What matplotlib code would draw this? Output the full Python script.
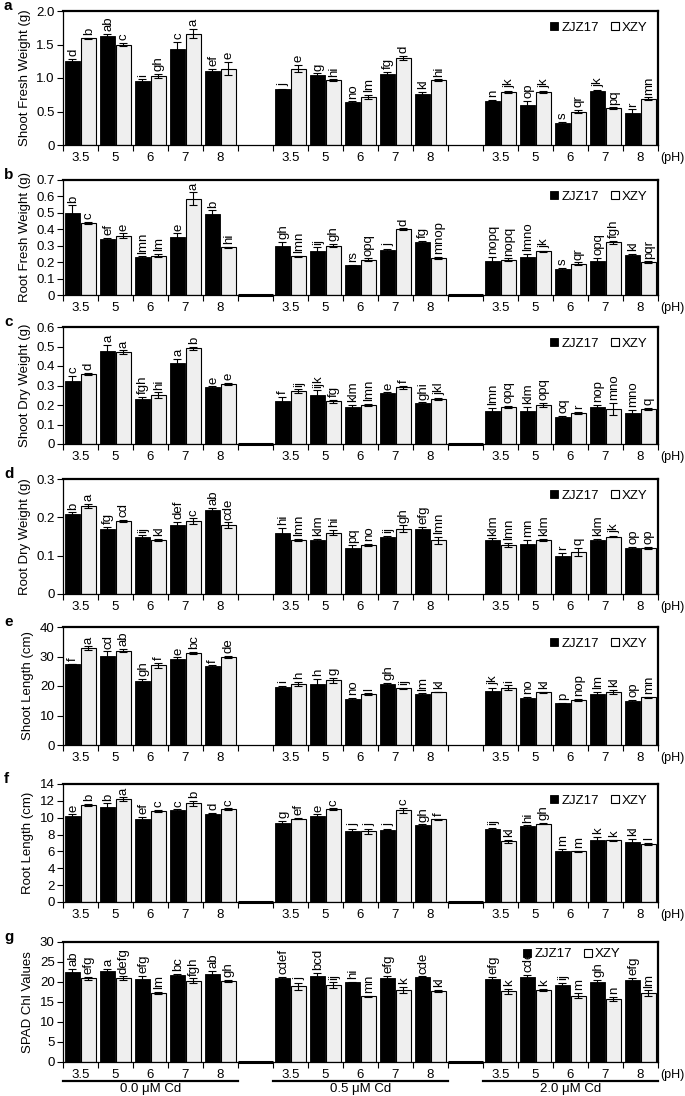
import matplotlib
matplotlib.use('Agg')
import matplotlib.pyplot as plt
import matplotlib.transforms as mtransforms
from matplotlib.patches import Patch

plt.rcParams['font.family'] = ['Liberation Sans', 'DejaVu Sans']

ph_labels = ['3.5', '5', '6', '7', '8']
cd_labels = ['0.0 \u03bcM Cd', '0.5 \u03bcM Cd', '2.0 \u03bcM Cd']
cultivars = ['ZJZ17', 'XZY']

# ---- a: Shoot Fresh Weight (g)
a_zjz = [1.25, 1.63, 0.95, 1.44, 1.11, 0.83, 1.04, 0.64, 1.06, 0.76, 0.66, 0.59, 0.33, 0.81, 0.48]
a_zjz_err = [0.03, 0.03, 0.03, 0.10, 0.03, 0.01, 0.03, 0.01, 0.03, 0.03, 0.01, 0.07, 0.01, 0.01, 0.05]
a_xzy = [1.59, 1.50, 1.03, 1.66, 1.14, 1.14, 0.97, 0.72, 1.30, 0.97, 0.79, 0.79, 0.50, 0.55, 0.69]
a_xzy_err = [0.01, 0.02, 0.03, 0.07, 0.10, 0.05, 0.01, 0.03, 0.03, 0.01, 0.02, 0.02, 0.02, 0.01, 0.02]
a_zjz_let = ['d', 'ab', 'i', 'c', 'ef', 'j', 'g', 'no', 'fg', 'kl', 'n', 'op', 's', 'jk', 'r']
a_xzy_let = ['b', 'c', 'gh', 'a', 'e', 'e', 'hi', 'lm', 'd', 'hi', 'jk', 'jk', 'qr', 'pq', 'mn']

# ---- b: Root Fresh Weight (g)
b_zjz = [0.50, 0.34, 0.23, 0.355, 0.495, 0.30, 0.27, 0.18, 0.275, 0.32, 0.21, 0.23, 0.16, 0.21, 0.245]
b_zjz_err = [0.045, 0.01, 0.005, 0.02, 0.02, 0.025, 0.02, 0.005, 0.005, 0.01, 0.02, 0.02, 0.005, 0.015, 0.005]
b_xzy = [0.44, 0.36, 0.24, 0.585, 0.29, 0.235, 0.30, 0.215, 0.40, 0.225, 0.215, 0.265, 0.19, 0.32, 0.20]
b_xzy_err = [0.005, 0.015, 0.008, 0.04, 0.005, 0.005, 0.01, 0.008, 0.005, 0.005, 0.008, 0.005, 0.008, 0.008, 0.005]
b_zjz_let = ['b', 'ef', 'lmn', 'e', 'b', 'gh', 'ij', 'rs', 'j', 'fg', 'nopq', 'lmno', 's', 'opq', 'kl']
b_xzy_let = ['c', 'e', 'lm', 'a', 'hi', 'lmn', 'gh', 'opq', 'd', 'mnop', 'nopq', 'jk', 'qr', 'fgh', 'pqr']

# ---- c: Shoot Dry Weight (g)
c_zjz = [0.325, 0.475, 0.23, 0.415, 0.29, 0.22, 0.25, 0.19, 0.26, 0.21, 0.17, 0.17, 0.14, 0.19, 0.16]
c_zjz_err = [0.025, 0.035, 0.01, 0.02, 0.005, 0.02, 0.025, 0.01, 0.005, 0.003, 0.015, 0.02, 0.005, 0.01, 0.015]
c_xzy = [0.36, 0.47, 0.25, 0.49, 0.31, 0.27, 0.22, 0.20, 0.29, 0.23, 0.19, 0.20, 0.16, 0.18, 0.18]
c_xzy_err = [0.005, 0.01, 0.015, 0.01, 0.005, 0.01, 0.008, 0.005, 0.01, 0.005, 0.005, 0.01, 0.005, 0.03, 0.005]
c_zjz_let = ['c', 'a', 'fgh', 'a', 'e', 'f', 'ijk', 'klm', 'e', 'ghi', 'lmn', 'klm', 'oq', 'nop', 'mno']
c_xzy_let = ['d', 'a', 'hi', 'b', 'e', 'ij', 'fg', 'lmn', 'f', 'jkl', 'opq', 'opq', 'r', 'mno', 'q']

# ---- d: Root Dry Weight (g)
d_zjz = [0.21, 0.17, 0.148, 0.18, 0.22, 0.16, 0.14, 0.12, 0.148, 0.17, 0.14, 0.13, 0.10, 0.14, 0.12]
d_zjz_err = [0.003, 0.006, 0.005, 0.008, 0.005, 0.012, 0.003, 0.007, 0.003, 0.006, 0.005, 0.012, 0.008, 0.003, 0.002]
d_xzy = [0.23, 0.19, 0.14, 0.19, 0.18, 0.14, 0.16, 0.128, 0.17, 0.14, 0.128, 0.14, 0.11, 0.15, 0.12]
d_xzy_err = [0.006, 0.003, 0.003, 0.007, 0.007, 0.003, 0.007, 0.003, 0.009, 0.01, 0.006, 0.003, 0.01, 0.002, 0.003]
d_zjz_let = ['b', 'fg', 'ij', 'def', 'ab', 'hi', 'klm', 'pq', 'ij', 'efg', 'klm', 'mn', 'r', 'klm', 'op']
d_xzy_let = ['a', 'cd', 'kl', 'c', 'cde', 'lmn', 'hi', 'no', 'gh', 'lmn', 'lmn', 'klm', 'q', 'jk', 'op']

# ---- e: Shoot Length (cm)
e_zjz = [27.4, 30.2, 21.6, 29.0, 26.7, 19.7, 20.8, 15.6, 20.8, 17.2, 18.4, 16.0, 14.1, 17.2, 14.9]
e_zjz_err = [0.1, 1.5, 0.7, 0.7, 0.3, 0.3, 1.5, 0.3, 0.3, 0.3, 1.0, 0.3, 0.2, 0.8, 0.3]
e_xzy = [32.8, 32.0, 27.0, 31.3, 29.8, 20.7, 21.9, 17.2, 19.2, 17.9, 19.4, 17.8, 15.2, 18.0, 16.2]
e_xzy_err = [0.6, 0.6, 0.8, 0.3, 0.4, 0.8, 0.8, 0.3, 0.2, 0.1, 0.8, 0.3, 0.3, 0.7, 0.2]
e_zjz_let = ['f', 'cd', 'gh', 'e', 'f', 'i', 'h', 'no', 'gh', 'lm', 'jk', 'no', 'p', 'lm', 'op']
e_xzy_let = ['a', 'ab', 'f', 'bc', 'de', 'h', 'g', 'l', 'ij', 'kl', 'i', 'kl', 'nop', 'kl', 'mn']

# ---- f: Root Length (cm)
f_zjz = [10.2, 11.3, 9.9, 10.9, 10.5, 9.4, 10.2, 8.4, 8.6, 9.1, 8.7, 9.0, 6.0, 7.3, 7.1]
f_zjz_err = [0.2, 0.4, 0.2, 0.1, 0.1, 0.2, 0.2, 0.3, 0.1, 0.1, 0.1, 0.1, 0.3, 0.4, 0.4]
f_xzy = [11.5, 12.2, 10.8, 11.7, 11.0, 9.9, 11.0, 8.4, 10.9, 9.8, 7.2, 9.3, 6.0, 7.3, 6.9]
f_xzy_err = [0.1, 0.2, 0.1, 0.3, 0.1, 0.1, 0.1, 0.3, 0.3, 0.1, 0.2, 0.1, 0.1, 0.1, 0.1]
f_zjz_let = ['e', 'b', 'ef', 'c', 'd', 'g', 'e', 'j', 'j', 'gh', 'ij', 'hi', 'm', 'k', 'kl']
f_xzy_let = ['b', 'a', 'c', 'b', 'c', 'ef', 'c', 'j', 'c', 'f', 'kl', 'gh', 'm', 'k', 'l']

# ---- g: SPAD Chl Values
g_zjz = [22.4, 22.7, 20.7, 21.8, 22.1, 21.0, 21.6, 19.9, 21.0, 21.3, 20.7, 21.3, 19.3, 20.1, 20.6]
g_zjz_err = [0.9, 0.6, 0.8, 0.2, 0.7, 0.2, 0.6, 0.2, 0.6, 0.1, 0.6, 0.5, 0.5, 0.5, 0.5]
g_xzy = [20.9, 20.9, 17.2, 20.3, 20.3, 18.9, 19.2, 16.4, 18.0, 17.7, 17.7, 18.0, 16.6, 15.8, 17.2]
g_xzy_err = [0.3, 0.5, 0.3, 0.6, 0.3, 0.9, 0.7, 0.1, 0.8, 0.3, 0.6, 0.2, 0.6, 0.5, 0.7]
g_zjz_let = ['ab', 'a', 'efg', 'bc', 'ab', 'cdef', 'bcd', 'hi', 'efg', 'cde', 'efg', 'cde', 'ij', 'gh', 'efg']
g_xzy_let = ['efg', 'defg', 'lm', 'fgh', 'gh', 'j', 'ij', 'mn', 'k', 'kl', 'k', 'k', 'm', 'n', 'lm']

panels = [
    ('a', 'Shoot Fresh Weight (g)', a_zjz, a_zjz_err, a_xzy, a_xzy_err, a_zjz_let, a_xzy_let,
     2.0, [0, 0.5, 1.0, 1.5, 2.0], ['0', '0.5', '1.0', '1.5', '2.0'], (11, 145), False),
    ('b', 'Root Fresh Weight (g)', b_zjz, b_zjz_err, b_xzy, b_xzy_err, b_zjz_let, b_xzy_let,
     0.7, [0, .1, .2, .3, .4, .5, .6, .7], ['0', '0.1', '0.2', '0.3', '0.4', '0.5', '0.6', '0.7'], (180, 295), True),
    ('c', 'Shoot Dry Weight (g)', c_zjz, c_zjz_err, c_xzy, c_xzy_err, c_zjz_let, c_xzy_let,
     0.6, [0, .1, .2, .3, .4, .5, .6], ['0', '0.1', '0.2', '0.3', '0.4', '0.5', '0.6'], (327, 444), True),
    ('d', 'Root Dry Weight (g)', d_zjz, d_zjz_err, d_xzy, d_xzy_err, d_zjz_let, d_xzy_let,
     0.3, [0, .1, .2, .3], ['0', '0.1', '0.2', '0.3'], (479, 594), False),
    ('e', 'Shoot Length (cm)', e_zjz, e_zjz_err, e_xzy, e_xzy_err, e_zjz_let, e_xzy_let,
     40, [0, 10, 20, 30, 40], ['0', '10', '20', '30', '40'], (627, 745), False),
    ('f', 'Root Length (cm)', f_zjz, f_zjz_err, f_xzy, f_xzy_err, f_zjz_let, f_xzy_let,
     14, [0, 2, 4, 6, 8, 10, 12, 14], ['0', '2', '4', '6', '8', '10', '12', '14'], (784, 902), True),
    ('g', 'SPAD Chl Values', g_zjz, g_zjz_err, g_xzy, g_xzy_err, g_zjz_let, g_xzy_let,
     30, [0, 5, 10, 15, 20, 25, 30], ['0', '5', '10', '15', '20', '25', '30'], (942, 1062), True),
]

W, H = 685, 1096
fig = plt.figure(figsize=(W / 100, H / 100), dpi=100)

x_left, x_right = 63, 658
n_slots = 17
slots = [g * 6 + i for g in range(3) for i in range(5)]
gap_slots = [5, 11]
FS = 9.5
black = '#000000'
light = '#efefef'

for (letter, ylabel, zv, ze, xv, xe, zl, xl, ymax, yt, ytl, (top, bot), thick_gap) in panels:
    ax = fig.add_axes([x_left / W, 1 - bot / H, (x_right - x_left) / W, (bot - top) / H])
    xb = [s + 0.27 for s in slots]
    xw = [s + 0.72 for s in slots]
    ax.bar(xb, zv, width=0.42, color=black, edgecolor=black, linewidth=0.6, zorder=2)
    ax.bar(xw, xv, width=0.42, color=light, edgecolor=black, linewidth=0.8, zorder=2)
    ax.errorbar(xb, zv, yerr=ze, fmt='none', ecolor=black, elinewidth=0.8, capsize=2.6, capthick=0.8, zorder=3)
    ax.errorbar(xw, xv, yerr=xe, fmt='none', ecolor=black, elinewidth=0.8, capsize=2.6, capthick=0.8, zorder=3)
    for xs, vs, es, ls in ((xb, zv, ze, zl), (xw, xv, xe, xl)):
        for x0, v, e, t in zip(xs, vs, es, ls):
            ax.annotate(t, (x0, v + e), xytext=(0.5, 2), textcoords='offset points',
                        rotation=90, ha='center', va='bottom', fontsize=FS, zorder=4)
    if thick_gap:
        for gs in gap_slots:
            ax.plot([gs, gs + 1], [0, 0], color=black, lw=2.2, solid_capstyle='butt', zorder=5, clip_on=False)
    ax.set_xlim(0, n_slots)
    ax.set_ylim(0, ymax)
    ax.set_yticks(yt)
    ax.set_yticklabels(ytl)
    ax.set_xticks(range(n_slots + 1))
    ax.set_xticklabels([])
    ax.set_xticks([s + 0.5 for s in slots], minor=True)
    ax.set_xticklabels(ph_labels * 3, minor=True)
    ax.tick_params(axis='x', which='major', direction='out', length=4, width=0.8)
    ax.tick_params(axis='x', which='minor', length=0, pad=5, labelsize=FS)
    ax.tick_params(axis='y', direction='out', length=4, width=0.8, labelsize=FS, pad=2)
    ax.set_ylabel(ylabel, fontsize=FS, labelpad=4)
    for sp in ('top', 'right'):
        ax.spines[sp].set_linewidth(1.6)
    for sp in ('left', 'bottom'):
        ax.spines[sp].set_linewidth(0.9)
    ax.annotate('(pH)', xy=(1.0, 0), xycoords='axes fraction', xytext=(1.5, -5),
                textcoords='offset points', ha='left', va='top', fontsize=9)
    handles = [Patch(facecolor=black, edgecolor=black, linewidth=0.6),
               Patch(facecolor='white', edgecolor=black, linewidth=0.8)]
    if letter == 'g':
        anchor = (0.955, 1.035)
    else:
        anchor = (1.0, 1.0)
    ax.legend(handles, cultivars, loc='upper right', bbox_to_anchor=anchor, ncol=2, frameon=False,
              fontsize=FS, handlelength=0.6, handleheight=0.6, handletextpad=0.25,
              columnspacing=0.9, borderaxespad=0.4)
    fig.text(4 / W, 1 - (top - 5) / H, letter, fontsize=11, fontweight='bold', ha='left', va='center')

    if letter == 'g':
        trans = mtransforms.blended_transform_factory(ax.transData, fig.transFigure)
        yline = 1 - 1081 / H
        for gi, lab in enumerate(cd_labels):
            x0 = gi * 6
            ax.plot([x0, x0 + 5], [yline, yline], color=black, lw=1.6, transform=trans, clip_on=False)
            ax.text(x0 + 2.5, 1 - 1089 / H, lab, transform=trans, ha='center', va='center', fontsize=FS)

fig.savefig('out.png', dpi=100)
